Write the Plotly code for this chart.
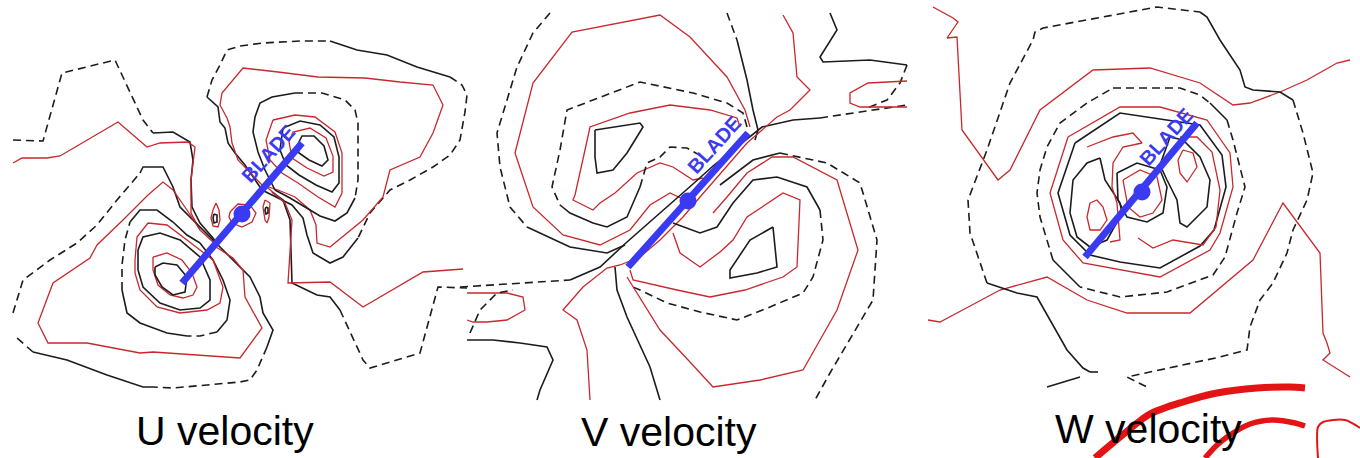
import plotly.graph_objects as go

# ---------------- colours / styles ----------------
BLACK = "#1c1c1c"
RED = "#c8282d"
BLUE = "#3a3af2"

# ---------------- titles ----------------
titles = ["U velocity", "V velocity", "W velocity"]
title_x = [225, 669, 1148]
title_y = [431, 432, 429]

# ---------------- blades (end points) and hub dots ----------------
blade_x0 = [182, 628, 1085]
blade_y0 = [283, 267, 257]
blade_x1 = [302, 748, 1197]
blade_y1 = [143, 133, 123]
hub_x = [242, 688, 1142]
hub_y = [214, 201, 192]
blade_label_x = [268, 714, 1166]
blade_label_y = [154, 145, 137]

# ================= U velocity panel contour traces =================
U_TL1_DASH = [(13,140),(43,141),(62,73),(115,60),(143,120),(153,133)]
U_TL1_SOLID = [(153,133),(173,132),(190,142),(193,160),(191,180),(192,207),(200,223),(213,238),(218,245)]
U_TL2_RED = [(13,163),(22,158),(47,158),(60,156),(118,122),(147,147),(160,143),(188,142),(195,147),(193,163),(191,180),(191,213),(200,230),(213,242)]

U_M7_A = [(13,313),(23,280),(50,260),(77,243),(97,225),(117,200),(140,173)]
U_M7_B = [(140,173),(143,167),(163,167),(173,187),(180,207),(198,225),(213,240),(230,258),(250,277),(260,297),(263,313),(273,330),(267,347)]
U_M7_C = [(267,347),(257,370),(250,380),(240,382),(173,388),(153,387)]
U_M7_D = [(153,387),(143,387),(107,375),(67,360),(33,352)]
U_M7_E = [(33,352),(17,338)]
U_M6_RED = [(213,245),(233,258),(243,270),(245,297),(262,328),(240,358),(153,352),(140,353),(87,343),(48,343),(38,323),(53,283),(90,258),(97,245),(123,220),(148,195),(163,182),(173,190),(187,210),(200,230)]
U_M5_A = [(200,243),(213,260),(223,280),(230,300),(227,320),(217,332)]
U_M5_B = [(217,332),(200,336),(187,336)]
U_M5_C = [(187,336),(167,333),(140,323),(127,313),(122,290)]
U_M5_D = [(122,290),(122,265),(125,240),(130,222)]
U_M5_E = [(130,222),(140,210),(157,210),(173,222),(187,235),(200,243)]
U_M4_RED = [(135,260),(137,237),(148,223),(167,225),(187,240),(213,260),(223,287),(220,303),(207,310),(180,313),(157,307),(140,290),(135,273),(135,260)]
U_M3 = [(138,250),(143,237),(160,233),(180,240),(200,257),(210,280),(210,300),(200,308),(180,310),(160,303),(143,287),(138,270),(138,250)]
U_M2_RED = [(153,257),(167,253),(182,260),(192,273),(197,287),(193,295),(183,298),(170,295),(158,285),(153,270),(153,257)]
U_M1 = [(155,267),(163,263),(177,265),(187,277),(185,292),(173,295),(162,287),(155,275),(155,267)]

U_L7_A = [(262,190),(245,165),(235,153),(228,143),(225,128),(220,122),(218,107),(207,97)]
U_L7_B = [(207,97),(212,80),(220,65),(227,50),(240,46),(263,43),(300,41),(330,41)]
U_L7_C = [(330,41),(357,50),(387,55),(417,67),(450,77)]
U_L7_D = [(450,77),(462,85),(467,95),(465,112),(460,140),(450,155),(433,167),(410,180),(390,190),(370,213),(358,238)]
U_L7_E = [(358,238),(343,257),(330,263),(313,253),(307,235),(303,218),(292,205),(278,198),(262,190)]
U_L6_RED = [(262,185),(250,172),(238,160),(232,143),(230,127),(227,118),(220,105),(222,93),(243,68),(278,72),(318,77),(365,78),(400,82),(433,85),(443,105),(433,133),(420,157),(390,170),(383,197),(363,220),(345,235),(330,247),(317,243),(316,225),(310,210),(295,197),(278,190),(262,185)]
U_L5_A = [(275,190),(265,170),(258,152),(253,132),(255,117),(260,103),(272,97),(295,93)]
U_L5_B = [(295,93),(322,93),(345,100),(355,110),(358,123),(358,180),(355,198)]
U_L5_C = [(355,198),(347,213),(335,221),(320,216),(305,207),(290,198),(275,190)]
U_L4_RED = [(273,120),(295,115),(315,117),(335,132),(342,153),(342,193),(335,207),(318,197),(298,183),(282,173),(270,160),(266,140),(273,120)]
U_L3 = [(283,128),(300,121),(320,125),(334,137),(339,157),(339,183),(332,192),(316,185),(299,175),(286,165),(280,150),(283,128)]
U_L2_RED = [(289,142),(293,132),(310,128),(326,138),(333,156),(333,172),(324,176),(307,168),(292,158),(289,142)]
U_L1 = [(297,146),(302,136),(314,136),(324,146),(328,160),(322,166),(309,160),(299,153),(297,146)]

U_BR1_SOLID = [(272,192),(283,200),(290,220),(291,250),(292,283),(317,295),(330,297),(340,310)]
U_BR1_DASH = [(340,310),(363,360),(370,368),(420,353),(438,287),(467,288)]
U_BR2_RED = [(268,188),(285,203),(292,220),(290,250),(288,283),(330,282),(363,307),(423,272),(463,269)]

U_S1_RED = [(216,203),(219,210),(220,220),(218,227),(213,226),(211,218),(213,210),(216,203)]
U_S1 = [(214,214),(217,215),(217,222),(214,223),(213,218),(214,214)]
U_S2_RED = [(265,200),(270,203),(269,217),(267,223),(265,220),(263,207),(265,200)]
U_S2 = [(266,207),(268,208),(268,213),(266,214),(265,210),(266,207)]
U_S3_RED = [(230,212),(238,204),(250,205),(256,213),(252,222),(242,227),(232,223),(229,217),(230,212)]

# ================= V velocity panel contour traces =================
V_A = [(595,130),(640,123),(643,127),(627,153),(613,170),(597,173),(595,157),(595,130)]
V_B_RED = [(740,127),(737,118),(710,110),(670,105),(630,113),(590,127),(585,150),(575,195),(573,200),(593,210),(600,203),(615,193),(637,173),(660,163),(673,167),(693,180),(703,178)]
V_C_A = [(747,127),(743,113),(727,103),(693,93),(640,82),(567,110),(560,150),(552,187),(560,205)]
V_C_B = [(560,205),(570,213),(593,223),(607,227),(627,217),(640,187)]
V_C_C = [(640,187),(647,163),(660,157),(670,147),(687,148),(703,157)]
V_D_RED = [(750,127),(745,110),(727,77),(690,37),(660,15),(572,32),(533,83),(515,153),(533,207),(563,235),(600,245),(630,230),(650,205),(670,193),(685,200)]
V_E_A = [(550,13),(533,33),(517,67),(497,133),(500,167),(510,207),(527,227)]
V_E_B = [(527,227),(570,247),(607,253),(625,245)]
V_E2_A = [(727,13),(737,40)]
V_E2_B = [(737,40),(747,80),(753,110),(758,130),(755,140)]
V_Z_A = [(460,287),(517,283),(570,280)]
V_Z_B = [(570,280),(600,267),(627,242),(650,222),(673,202),(693,184),(713,166),(733,150),(750,136),(762,127),(793,120),(820,118)]
V_Z_C = [(820,118),(907,105)]
V_R_RED = [(783,15),(793,33),(797,77),(810,90),(790,110),(777,117),(747,143),(717,177),(700,197),(683,217),(660,240),(640,257),(620,265),(607,268),(583,287),(563,310),(577,320),(587,350),(590,400)]

V_A2 = [(773,227),(777,267),(757,273),(730,278),(730,270),(750,240),(773,227)]
V_B2_RED = [(673,233),(680,253),(700,267),(720,252),(733,240),(747,217),(783,193),(800,200),(797,267),(783,277),(745,290),(710,297),(677,290),(633,280),(630,270)]
V_C2_A = [(673,223),(700,233),(717,227),(733,203),(753,180),(777,177),(807,187),(820,210)]
V_C2_B = [(820,210),(823,240),(813,277),(803,293),(770,307),(737,320),(700,312),(667,303),(640,290),(633,287)]
V_D2_RED = [(627,277),(637,293),(660,330),(690,362),(713,387),(760,380),(803,370),(837,310),(858,250),(837,180),(793,157),(772,157),(747,173),(727,197),(713,213)]
V_E3_A = [(720,185),(740,170),(753,160),(780,153)]
V_E3_B = [(780,153),(827,163),(860,183),(877,240),(873,300),(843,350),(830,373),(815,400)]
V_F = [(615,267),(617,290),(627,317),(650,367),(660,400)]

V_X1_RED = [(467,293),(507,293),(523,297),(525,310),(507,320),(487,322),(473,322),(467,320)]
V_X2_DASH = [(470,333),(480,310),(497,293),(513,290)]
V_X3 = [(467,340),(493,340),(520,343),(547,347),(553,360),(540,390),(537,400)]
V_X4_A = [(830,13),(837,30),(820,57),(823,62),(870,60),(887,62),(907,65)]
V_X4_B = [(907,65),(900,83),(887,100),(867,108)]
V_X5_RED = [(907,81),(890,82),(868,83),(850,93),(850,103),(860,107),(907,107)]

# ================= W velocity panel contour traces =================
W_R1_RED = [(933,7),(953,18),(958,22),(947,38),(957,37),(962,130),(998,180),(1010,170),(1040,110),(1093,70),(1150,68),(1200,83),(1233,105),(1250,103),(1280,92),(1307,80),(1337,63),(1350,60)]
W_R2_RED = [(928,320),(940,322),(957,313),(1000,290),(1047,277),(1087,300),(1127,313),(1190,313),(1253,260),(1283,203),(1320,253),(1323,333),(1327,343),(1330,353),(1323,360),(1350,377)]
W_K1_A = [(987,283),(970,233),(968,200),(987,150),(1010,83),(1033,40),(1035,32),(1043,28),(1157,7),(1200,12)]
W_K1_B = [(1200,12),(1207,17),(1220,40),(1240,70),(1245,87),(1253,90),(1280,92),(1293,100)]
W_K1_C = [(1293,100),(1303,133),(1313,173),(1307,200),(1293,230),(1287,253),(1273,283),(1260,300),(1250,327),(1247,350),(1220,357),(1173,367),(1127,377),(1147,387)]
W_K1_D = [(987,283),(1017,293),(1037,297),(1050,320),(1067,350),(1083,368),(1090,372)]
W_K1_E = [(1090,372),(1103,372)]
W_K1_F = [(1047,387),(1080,377)]
W_K2_A = [(1113,88),(1180,88),(1200,95),(1210,103)]
W_K2_B = [(1210,103),(1227,120)]
W_K2_C = [(1227,120),(1233,140),(1245,187),(1237,213),(1225,257),(1213,275),(1167,292),(1120,297),(1080,287)]
W_K2_D = [(1080,287),(1053,260)]
W_K2_E = [(1053,260),(1040,217),(1037,193),(1040,170),(1047,147),(1060,123),(1087,103),(1113,88)]
W_R3_RED = [(1068,137),(1120,107),(1160,107),(1207,120),(1230,153),(1233,187),(1220,233),(1210,250),(1160,277),(1120,270),(1083,263),(1063,240),(1050,193),(1068,137)]
W_K3 = [(1075,143),(1120,113),(1200,125),(1222,155),(1226,187),(1214,230),(1200,246),(1160,268),(1120,262),(1090,255),(1070,235),(1058,193),(1075,143)]
W_K4 = [(1100,158),(1105,180),(1120,203),(1122,213),(1107,240),(1090,247),(1077,237),(1070,213),(1073,180),(1087,163),(1100,158)]
W_K5 = [(1170,137),(1183,140),(1200,157),(1210,180),(1207,207),(1187,227),(1180,223),(1177,200),(1167,180),(1160,165),(1170,137)]
W_R4_RED = [(1087,147),(1113,137),(1133,133),(1142,143),(1123,147),(1113,163),(1112,187),(1117,203),(1120,240),(1110,242)]
W_R5_RED = [(1138,238),(1153,248),(1173,240),(1203,245),(1216,227),(1220,190),(1212,152),(1197,137),(1180,137)]
W_R6_RED = [(1090,203),(1097,200),(1103,207),(1107,220),(1100,230),(1090,230),(1087,217),(1090,203)]
W_R7_RED = [(1183,150),(1193,153),(1197,167),(1193,173),(1187,182),(1180,173),(1178,160),(1183,150)]
W_K6 = [(1117,173),(1137,163),(1160,170),(1167,187),(1163,213),(1147,222),(1127,217),(1118,200),(1117,173)]
W_R8_RED = [(1123,180),(1140,170),(1157,177),(1162,200),(1153,213),(1140,217),(1128,207),(1123,180)]

# red marker strokes in the bottom-right corner
SWOOSH_1 = [(1095,458),(1120,437),(1150,414),(1183,402),(1217,393),(1257,388),(1290,387),(1305,388)]
SWOOSH_2 = [(1205,458),(1215,447),(1227,437),(1250,424),(1273,420),(1295,423),(1305,426)]
SWOOSH_3 = [(1318,458),(1318,427),(1323,422),(1345,420),(1360,428)]

# style: k = solid black, d = dashed black, r = red
traces = [
    (U_TL1_DASH, "d"), (U_TL1_SOLID, "k"), (U_TL2_RED, "r"),
    (U_M7_A, "d"), (U_M7_B, "k"), (U_M7_C, "d"), (U_M7_D, "k"), (U_M7_E, "d"),
    (U_M6_RED, "r"), (U_M5_A, "k"), (U_M5_B, "d"), (U_M5_C, "k"), (U_M5_D, "d"), (U_M5_E, "k"),
    (U_M4_RED, "r"), (U_M3, "k"), (U_M2_RED, "r"), (U_M1, "k"),
    (U_L7_A, "k"), (U_L7_B, "d"), (U_L7_C, "k"), (U_L7_D, "d"), (U_L7_E, "k"),
    (U_L6_RED, "r"), (U_L5_A, "k"), (U_L5_B, "d"), (U_L5_C, "k"),
    (U_L4_RED, "r"), (U_L3, "k"), (U_L2_RED, "r"), (U_L1, "k"),
    (U_BR1_SOLID, "k"), (U_BR1_DASH, "d"), (U_BR2_RED, "r"),
    (U_S1_RED, "r"), (U_S1, "k"), (U_S2_RED, "r"), (U_S2, "k"), (U_S3_RED, "r"),
    (V_A, "k"), (V_B_RED, "r"), (V_C_A, "d"), (V_C_B, "k"), (V_C_C, "d"), (V_D_RED, "r"),
    (V_E_A, "d"), (V_E_B, "k"), (V_E2_A, "d"), (V_E2_B, "k"),
    (V_Z_A, "d"), (V_Z_B, "k"), (V_Z_C, "d"), (V_R_RED, "r"),
    (V_A2, "k"), (V_B2_RED, "r"), (V_C2_A, "k"), (V_C2_B, "d"), (V_D2_RED, "r"),
    (V_E3_A, "k"), (V_E3_B, "d"), (V_F, "k"),
    (V_X1_RED, "r"), (V_X2_DASH, "d"), (V_X3, "k"), (V_X4_A, "k"), (V_X4_B, "d"), (V_X5_RED, "r"),
    (W_R1_RED, "r"), (W_R2_RED, "r"),
    (W_K1_A, "d"), (W_K1_B, "k"), (W_K1_C, "d"), (W_K1_D, "k"), (W_K1_E, "d"), (W_K1_F, "k"),
    (W_K2_A, "d"), (W_K2_B, "k"), (W_K2_C, "d"), (W_K2_D, "k"), (W_K2_E, "d"),
    (W_R3_RED, "r"), (W_K3, "k"), (W_K4, "k"), (W_K5, "k"),
    (W_R4_RED, "r"), (W_R5_RED, "r"), (W_R6_RED, "r"), (W_R7_RED, "r"),
    (W_K6, "k"), (W_R8_RED, "r"),
]

STYLES = {
    "k": dict(color=BLACK, width=1.6),
    "d": dict(color=BLACK, width=1.6, dash="8px,5px"),
    "r": dict(color=RED, width=1.3),
}

fig = go.Figure()
for pts, st in traces:
    fig.add_trace(go.Scatter(
        x=[p[0] for p in pts], y=[p[1] for p in pts], mode="lines",
        line=STYLES[st], hoverinfo="skip", showlegend=False))

for pts, w in [(SWOOSH_1, 7), (SWOOSH_2, 5.5), (SWOOSH_3, 2)]:
    fig.add_trace(go.Scatter(
        x=[p[0] for p in pts], y=[p[1] for p in pts], mode="lines",
        line=dict(color="#e41414", width=w, shape="spline", smoothing=0.8),
        hoverinfo="skip", showlegend=False))

# blades
for i in range(3):
    fig.add_trace(go.Scatter(
        x=[blade_x0[i], blade_x1[i]], y=[blade_y0[i], blade_y1[i]], mode="lines",
        line=dict(color=BLUE, width=7), hoverinfo="skip", showlegend=False))
fig.add_trace(go.Scatter(
    x=hub_x, y=hub_y, mode="markers",
    marker=dict(color=BLUE, size=17, line=dict(width=0)),
    hoverinfo="skip", showlegend=False))

annotations = []
for i in range(3):
    annotations.append(dict(
        x=blade_label_x[i], y=blade_label_y[i], xref="x", yref="y",
        text="<b>BLADE</b>", showarrow=False, textangle=-48,
        font=dict(family="Liberation Sans, Arial", size=20, color=BLUE),
        xanchor="center", yanchor="middle"))
    annotations.append(dict(
        x=title_x[i], y=title_y[i], xref="x", yref="y",
        text=titles[i], showarrow=False,
        font=dict(family="Liberation Sans, Arial", size=41, color="black"),
        xanchor="center", yanchor="middle"))

fig.update_layout(
    width=1360, height=458, autosize=False,
    margin=dict(l=0, r=0, t=0, b=0, pad=0),
    paper_bgcolor="white", plot_bgcolor="white",
    xaxis=dict(range=[0, 1360], visible=False, fixedrange=True),
    yaxis=dict(range=[458, 0], visible=False, fixedrange=True),
    annotations=annotations,
)

fig.write_html("out.html")
